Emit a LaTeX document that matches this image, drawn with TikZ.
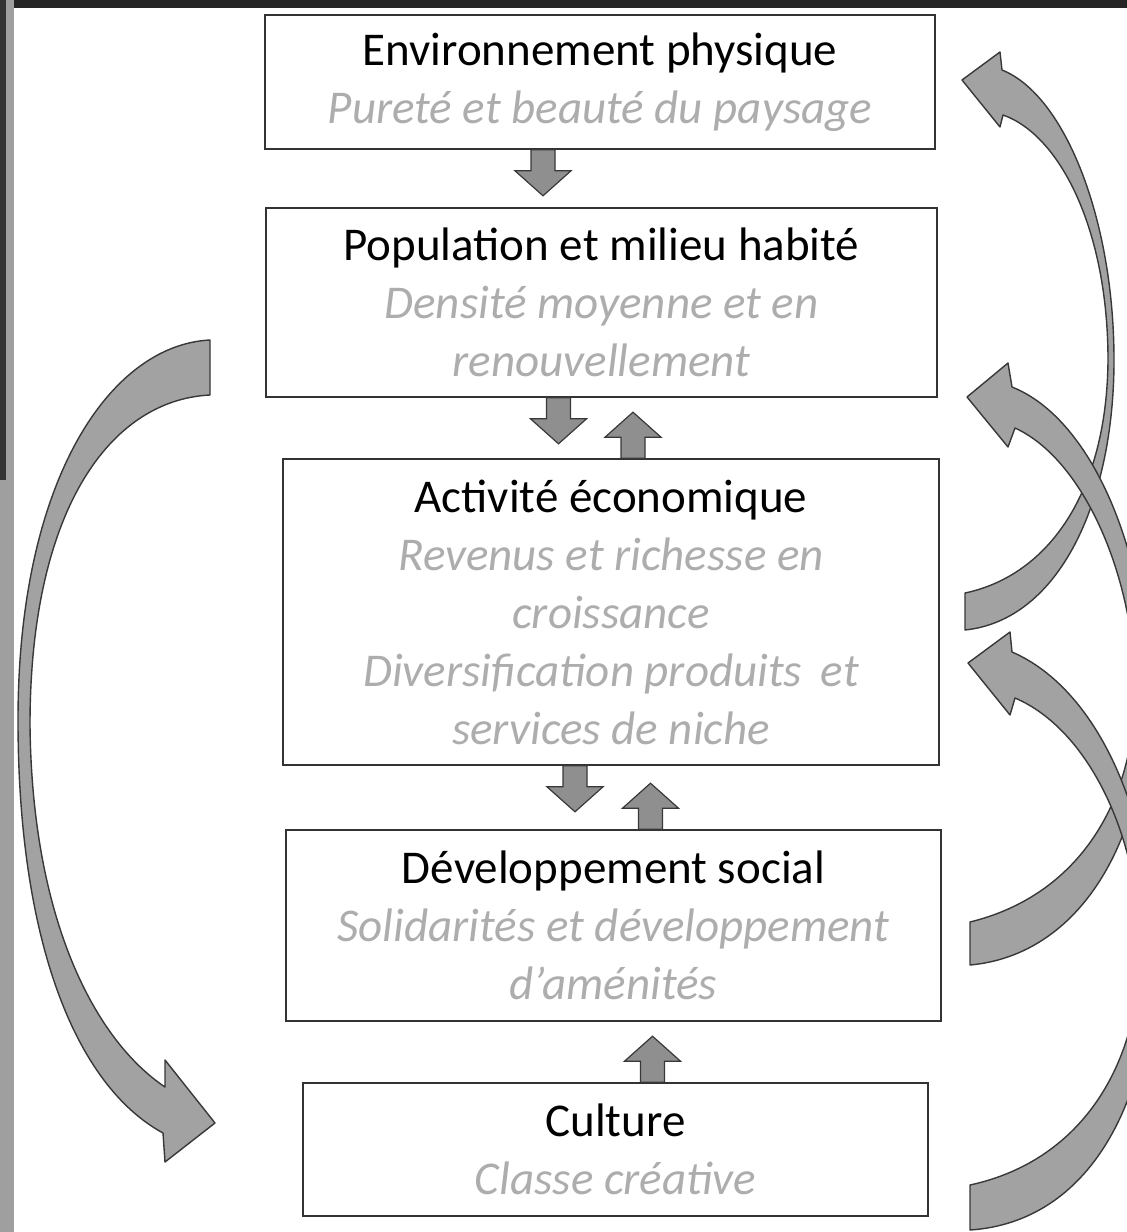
\documentclass[tikz,border=0pt]{standalone}
\usepackage{fontspec}
\setmainfont{Carlito}
\usepackage{tikz}

\definecolor{subgray}{HTML}{ADADAD}
\definecolor{arrgray}{HTML}{A2A2A2}
\definecolor{edgegray}{HTML}{383838}

\newcommand\subtxt[1]{{\color{subgray}\itshape #1}}

\tikzset{
  blockdown/.pic={
    \draw[fill=arrgray!88!black, draw=edgegray, line width=1.2pt]
      (-12,0) -- (-12,21) -- (-28,21) -- (0,46) -- (28,21) -- (12,21) -- (12,0) -- cycle;
  }
}

\begin{document}
\begin{tikzpicture}[x=1pt,y=-1pt,
    box/.style={draw=black!80, line width=1.6pt, align=center, inner sep=0pt,
      font=\fontsize{47}{58}\selectfont},
    bigarr/.style={fill=arrgray, draw=edgegray, line width=1.4pt, line join=round}]

  \useasboundingbox (0,0) rectangle (1127,1232);
  \clip (0,0) rectangle (1127,1232);

  % scan frame
  \fill[black!85] (0,0) rectangle (1127,8);
  \fill[gray!75] (0,0) rectangle (14,1232);
  \fill[black!80] (0,0) rectangle (6,480);

  \node[box, minimum width=670pt, minimum height=134pt] (env) at (600,82)
    {Environnement physique\\ \subtxt{Pureté et beauté du paysage}};
  \node[box, minimum width=671pt, minimum height=189pt] (pop) at (601.5,302.5)
    {Population et milieu habité\\ \subtxt{Densité moyenne et en}\\ \subtxt{renouvellement}};
  \node[box, minimum width=656pt, minimum height=306pt] (act) at (611,612)
    {Activité économique\\ \subtxt{Revenus et richesse en}\\ \subtxt{croissance}\\
      \subtxt{Diversification produits\, et}\\ \subtxt{services de niche}};
  \node[box, minimum width=655pt, minimum height=191pt] (dev) at (613.5,925.5)
    {Développement social\\ \subtxt{Solidarités et développement}\\ \subtxt{d’aménités}};
  \node[box, minimum width=625pt, minimum height=133pt] (cul) at (615.5,1149.5)
    {Culture\\ \subtxt{Classe créative}};

  % small block arrows
  \pic at ([xshift=-57pt]env.south) {blockdown};
  \pic at ([xshift=-43pt]pop.south) {blockdown};
  \pic[rotate=180] at ([xshift=22pt]act.north) {blockdown};
  \pic at ([xshift=-36pt]act.south) {blockdown};
  \pic[rotate=180] at ([xshift=37pt]dev.north) {blockdown};
  \pic[rotate=180] at ([xshift=37pt]cul.north) {blockdown};

  % left: population -> culture
  \draw[bigarr] (210,340) .. controls (110,345) and (18,480) .. (18,720)
    .. controls (18,940) and (75,1085) .. (163,1133)
    -- (165,1162) -- (215,1123) -- (165,1060) -- (165,1087)
    .. controls (95,1040) and (32,920) .. (30,725)
    .. controls (30,510) and (110,400) .. (210,395) -- cycle;

  % right: activite -> environnement
  \draw[bigarr] (965,593) .. controls (1050,575) and (1107,490) .. (1108,360)
    .. controls (1108,230) and (1060,135) .. (1003,115)
    -- (1000,127) -- (962,80) -- (1000,52) -- (1002,70)
    .. controls (1065,95) and (1114,220) .. (1114,360)
    .. controls (1114,500) and (1060,620) .. (965,630) -- cycle;

  % right: developpement -> population
  \draw[bigarr] (970,922) .. controls (1080,895) and (1135,800) .. (1135,690)
    .. controls (1135,580) and (1085,460) .. (1015,428)
    -- (1008,447) -- (967,397) -- (1008,363) -- (1012,387)
    .. controls (1095,420) and (1148,560) .. (1148,690)
    .. controls (1148,840) and (1080,955) .. (970,965) -- cycle;

  % right: culture -> activite
  \draw[bigarr] (970,1185) .. controls (1085,1160) and (1140,1060) .. (1140,950)
    .. controls (1140,840) and (1090,730) .. (1015,698)
    -- (1010,715) -- (968,663) -- (1010,632) -- (1012,652)
    .. controls (1100,690) and (1153,820) .. (1153,950)
    .. controls (1153,1100) and (1090,1222) .. (970,1230) -- cycle;

\end{tikzpicture}
\end{document}
